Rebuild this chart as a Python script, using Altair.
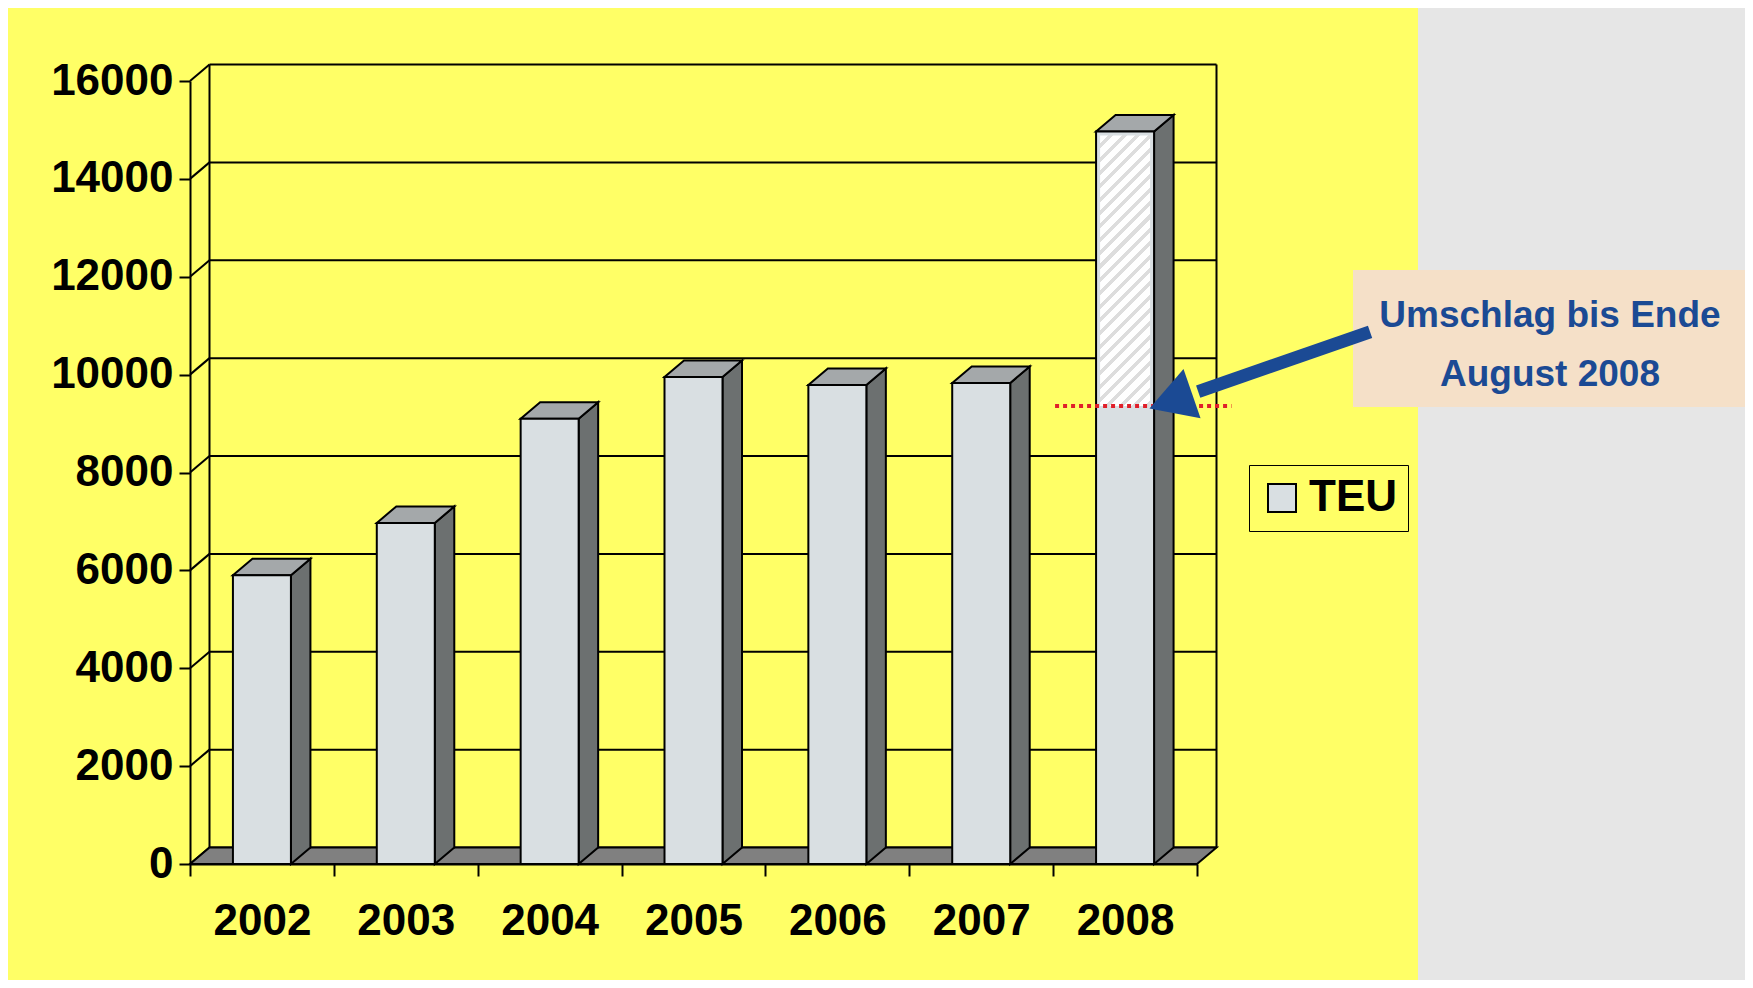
import json
import math
import altair as alt
import pandas as pd

# ---------------- data ----------------
YEARS = ["2002", "2003", "2004", "2005", "2006", "2007", "2008"]
TEU = [5900, 6970, 9100, 9950, 9790, 9830, 14970]
TEU_2008_AUG = 9360
Y_TICKS = [0, 2000, 4000, 6000, 8000, 10000, 12000, 14000, 16000]
SERIES = "TEU"
NOTE_LINES = ["Umschlag bis Ende", "August 2008"]

# ---------------- styling / geometry ----------------
W, H = 1007, 783
N = len(YEARS)
YMAX = Y_TICKS[-1]
PXX = W / N
PXY = H / YMAX
DX = 19.5 / PXX          # 3-D depth in data units
DY = 16.5 / PXY
BAR_W = 58 / PXX

YELLOW = "#FFFF66"
GRAY = "#E6E6E6"
FRONT = "#D9DFE2"
SIDE = "#6C7070"
TOP = "#A4A8AA"
FLOOR = "#808080"
PEACH = "#F5E0C8"
BLUE = "#1B4A94"
RED = "#E0202A"
HATCH = "#DDDDDD"
FONT = "Liberation Sans, Arial"
AXIS_FS = 44

xs = alt.Scale(domain=[0, N], nice=False, zero=False)
ys = alt.Scale(domain=[0, YMAX], nice=False, zero=False)


def qx(f):
    return alt.X(f, type="quantitative", scale=xs, axis=None)


def qy(f):
    return alt.Y(f, type="quantitative", scale=ys, axis=None)


one = pd.DataFrame({"k": [0]})

# background panel
bg = alt.Chart(one).mark_rect(fill=YELLOW).encode(
    x=alt.value(-183), x2=alt.value(1228), y=alt.value(-74), y2=alt.value(907)
)

# back wall grid + left wall diagonals
grid_df = pd.DataFrame({"v": Y_TICKS})
grid_df["vb"] = grid_df["v"] + DY
grid_df["x0"] = DX
grid_df["x1"] = N + DX
grid_df["xf"] = 0.0
grid = alt.Chart(grid_df).mark_rule(color="black", strokeWidth=2).encode(
    x=qx("x0"), x2="x1", y=qy("vb")
)
diag = alt.Chart(grid_df).mark_rule(color="black", strokeWidth=2).encode(
    x=qx("xf"), x2="x0", y=qy("v"), y2="vb"
)
walls_df = pd.DataFrame({"x": [DX, N + DX], "y0": [DY, DY], "y1": [YMAX + DY, YMAX + DY]})
walls = alt.Chart(walls_df).mark_rule(color="black", strokeWidth=2).encode(
    x=qx("x"), y=qy("y0"), y2="y1"
)

# floor
floor_df = pd.DataFrame({"y": [0, DY], "xa": [0, DX], "xb": [N, N + DX]})
floor = alt.Chart(floor_df).mark_area(
    orient="horizontal", fill=FLOOR, stroke="black", strokeWidth=2
).encode(y=qy("y"), x=qx("xa"), x2="xb")

# bars
xl = [i + 0.5 - BAR_W / 2 for i in range(N)]
xr = [i + 0.5 + BAR_W / 2 for i in range(N)]
bars_df = pd.DataFrame({"year": YEARS, "v": TEU, "base": 0, "xl": xl, "xr": xr, "series": SERIES})

side_rows, top_rows = [], []
for i in range(N):
    side_rows.append({"year": YEARS[i], "x": xr[i], "lo": 0, "hi": TEU[i]})
    side_rows.append({"year": YEARS[i], "x": xr[i] + DX, "lo": DY, "hi": TEU[i] + DY})
    top_rows.append({"year": YEARS[i], "y": TEU[i], "xa": xl[i], "xb": xr[i]})
    top_rows.append({"year": YEARS[i], "y": TEU[i] + DY, "xa": xl[i] + DX, "xb": xr[i] + DX})

sides = alt.Chart(pd.DataFrame(side_rows)).mark_area(
    orient="vertical", fill=SIDE, stroke="black", strokeWidth=2
).encode(x=qx("x"), y=qy("lo"), y2="hi", detail="year:N")

tops = alt.Chart(pd.DataFrame(top_rows)).mark_area(
    orient="horizontal", fill=TOP, stroke="black", strokeWidth=2
).encode(y=qy("y"), x=qx("xa"), x2="xb", detail="year:N")

label_expr = f"datum.value < {N} ? {json.dumps(YEARS)}[datum.value] : ''"
fronts = alt.Chart(bars_df).mark_rect(stroke="black", strokeWidth=2).encode(
    x=alt.X(
        "xl:Q",
        scale=xs,
        axis=alt.Axis(
            orient="bottom",
            values=list(range(N + 1)), title=None, grid=False, zindex=2,
            domainColor="black", domainWidth=2, tickColor="black", tickWidth=2, tickSize=12,
            labelExpr=label_expr, labelOffset=PXX / 2, labelPadding=23,
            labelFont=FONT, labelFontSize=AXIS_FS, labelFontWeight="bold", labelColor="black",
            labelOverlap=False, labelFlush=False, labelBound=False,
        ),
    ),
    x2="xr",
    y=alt.Y(
        "base:Q",
        scale=ys,
        axis=alt.Axis(
            orient="left",
            values=Y_TICKS, title=None, grid=False, zindex=2, format="d",
            domainColor="black", domainWidth=2, tickColor="black", tickWidth=2, tickSize=11,
            labelPadding=6, labelFont=FONT, labelFontSize=AXIS_FS, labelFontWeight="bold",
            labelColor="black", labelOverlap=False, labelFlush=False, labelBound=False,
        ),
    ),
    y2="v",
    color=alt.Color(
        "series:N",
        scale=alt.Scale(domain=[SERIES], range=[FRONT]),
        legend=alt.Legend(
            orient="none", legendX=1059, legendY=384, title=None,
            strokeColor="black", padding=11, symbolType="square", symbolSize=784,
            symbolStrokeColor="black", symbolStrokeWidth=2, labelOffset=5,
            labelFont=FONT, labelFontSize=AXIS_FS, labelFontWeight="bold", labelColor="black",
        ),
    ),
)

# hatched part of 2008 (remaining months)
hw = BAR_W * PXX - 8
hh = (TEU[-1] - TEU_2008_AUG) * PXY - 4
k = hh / hw
ga = (1 + k) / (1 + k * k)
gb = ga * k
nper = max(1, round((hw + hh) / 13.3))
stops = []
for j in range(nper):
    stops += [
        {"offset": j / nper, "color": "#FFFFFF"},
        {"offset": (j + 0.62) / nper, "color": "#FFFFFF"},
        {"offset": (j + 0.62) / nper, "color": HATCH},
        {"offset": (j + 1) / nper, "color": HATCH},
    ]
hatch_fill = {"gradient": "linear", "x1": 0, "y1": 0, "x2": ga, "y2": gb, "stops": stops}
hatch_df = pd.DataFrame({"xl": [xl[-1]], "xr": [xr[-1]], "lo": [TEU_2008_AUG], "hi": [TEU[-1]]})
hatch = alt.Chart(hatch_df).mark_rect(
    fill=hatch_fill, strokeWidth=0, xOffset=4, x2Offset=-4, y2Offset=4
).encode(x=qx("xl"), x2="xr", y=qy("lo"), y2="hi")

# annotation box
note_box = alt.Chart(one).mark_rect(fill=PEACH).encode(
    x=alt.value(1163), x2=alt.value(1570), y=alt.value(189), y2=alt.value(326)
)
note_text = alt.Chart(one).mark_text(
    text=NOTE_LINES, lineHeight=59.3, align="center", baseline="alphabetic",
    font=FONT, fontSize=37, fontWeight="bold", color=BLUE,
).encode(x=alt.value(1360), y=alt.value(245.7))

# red dotted marker line at the August value
red_df = pd.DataFrame({"x1": [xl[-1] - 0.285], "x2": [N + 0.24], "y": [TEU_2008_AUG]})
red = alt.Chart(red_df).mark_rule(
    color=RED, strokeWidth=4, strokeDash=[4, 4], strokeCap="butt"
).encode(x=qx("x1"), x2="x2", y=qy("y"))

# arrow
tip_x = xr[-1] + 2.5 / PXX
tip_y = TEU_2008_AUG
tail_dx_px, tail_dy_px = 213.5, -74.0
L = math.hypot(tail_dx_px, tail_dy_px)
ux, uy = tail_dx_px / L, tail_dy_px / L
r = 26.0
head_h = math.sqrt(3) * r
base_x = tip_x + ux * (head_h - 1) / PXX
base_y = tip_y - uy * (head_h - 1) / PXY
cen_x = tip_x + ux * (head_h / 2) / PXX
cen_y = tip_y - uy * (head_h / 2) / PXY
tail_x = tip_x + tail_dx_px / PXX
tail_y = tip_y - tail_dy_px / PXY
angle = math.degrees(math.atan2(-ux, uy)) % 360

shaft_df = pd.DataFrame({"x1": [tail_x], "x2": [base_x], "y1": [tail_y], "y2": [base_y]})
shaft = alt.Chart(shaft_df).mark_rule(color=BLUE, strokeWidth=13, strokeCap="butt").encode(
    x=qx("x1"), x2="x2", y=qy("y1"), y2="y2"
)
head_df = pd.DataFrame({"x": [cen_x], "y": [cen_y]})
head = alt.Chart(head_df).mark_point(
    shape="triangle", filled=True, size=(2 * r) ** 2, angle=angle,
    color=BLUE, opacity=1, strokeWidth=0,
).encode(x=qx("x"), y=qy("y"))

chart = alt.layer(
    bg, grid, diag, walls, floor, sides, tops, fronts, hatch,
    note_box, red, shaft, head, note_text,
).resolve_axis(
    x="independent", y="independent"
).properties(
    width=W,
    height=H,
    padding={"left": 182, "top": 73, "right": 548, "bottom": 116},
    autosize=alt.AutoSizeParams(type="none"),
    background=GRAY,
).configure_view(stroke=None)

chart.save("out.html", embed_options={"renderer": "svg", "actions": False})
